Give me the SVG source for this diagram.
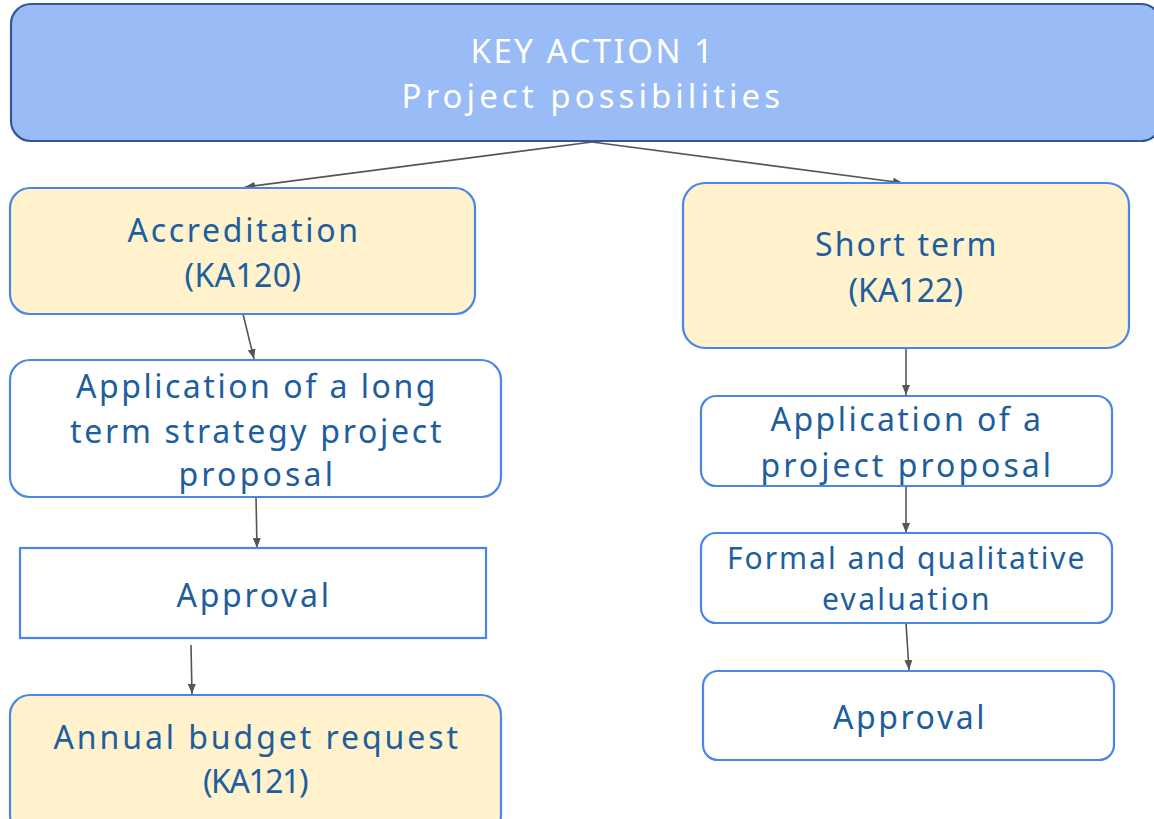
<svg xmlns="http://www.w3.org/2000/svg" width="1154" height="819" viewBox="0 0 1154 819">
<defs>
<marker id="arr" viewBox="0 0 10 10" refX="10" refY="5" markerWidth="10" markerHeight="10" markerUnits="userSpaceOnUse" orient="auto">
<path d="M0,1 L10,5 L0,9 Z" fill="#555555"/>
</marker>
</defs>
<style>
.box{fill:#ffffff;stroke:#4a86e8;stroke-width:2.2}
.yel{fill:#fff2cc;stroke:#4a86e8;stroke-width:2.2}
.top{fill:#99bbf6;stroke:#34579a;stroke-width:2.2}
.t{font-family:"Noto Sans","DejaVu Sans",sans-serif;font-size:32px;fill:#1d5e9e;text-anchor:middle;letter-spacing:0.5px}
.tw{font-family:"Noto Sans","DejaVu Sans",sans-serif;font-size:33px;fill:#ffffff;text-anchor:middle;letter-spacing:0.5px}
.c{stroke:#555555;stroke-width:1.6;fill:none;marker-end:url(#arr)}
</style>
<g id="connectors">
<line class="c" x1="592" y1="142" x2="245" y2="187"/>
<line class="c" x1="592" y1="142" x2="903" y2="183"/>
<line class="c" x1="243" y1="314" x2="254" y2="359"/>
<line class="c" x1="256" y1="497" x2="257" y2="548"/>
<line class="c" x1="191" y1="645" x2="192" y2="694"/>
<line class="c" x1="906" y1="348" x2="906" y2="395"/>
<line class="c" x1="906" y1="486" x2="906" y2="533"/>
<line class="c" x1="906" y1="623" x2="909" y2="670"/>
</g>
<g id="n-key">
<rect class="top" x="11" y="4" width="1150" height="137" rx="20"/>
<text class="tw" x="592" y="63" textLength="243">KEY ACTION 1</text>
<text class="tw" x="591" y="108" textLength="379">Project possibilities</text>
</g>
<g id="n-accreditation">
<rect class="yel" x="10" y="188" width="465" height="126" rx="20"/>
<text class="t" x="243" y="242" textLength="231">Accreditation</text>
<text class="t" x="243" y="287" textLength="117">(KA120)</text>
</g>
<g id="n-short">
<rect class="yel" x="683" y="183" width="446" height="165" rx="22"/>
<text class="t" x="906" y="256" textLength="182">Short term</text>
<text class="t" x="906" y="302" textLength="115">(KA122)</text>
</g>
<g id="n-longterm">
<rect class="box" x="10" y="360" width="491" height="137" rx="20"/>
<text class="t" x="256" y="398" textLength="360">Application of a long</text>
<text class="t" x="256" y="443" textLength="372">term strategy project</text>
<text class="t" x="256" y="486" textLength="155">proposal</text>
</g>
<g id="n-approval-left">
<rect class="box" x="20" y="548" width="466" height="90"/>
<text class="t" x="253" y="607" textLength="153">Approval</text>
</g>
<g id="n-annual">
<rect class="yel" x="10" y="695" width="491" height="140" rx="20"/>
<text class="t" x="256" y="749" textLength="405">Annual budget request</text>
<text class="t" x="256" y="793" textLength="106">(KA121)</text>
</g>
<g id="n-application">
<rect class="box" x="701" y="396" width="411" height="90" rx="15"/>
<text class="t" x="906" y="431" textLength="271">Application of a</text>
<text class="t" x="906" y="477" textLength="291">project proposal</text>
</g>
<g id="n-evaluation">
<rect class="box" x="701" y="533" width="411" height="90" rx="15"/>
<text class="t" x="906" y="569" textLength="358" style="font-size:30px">Formal and qualitative</text>
<text class="t" x="906" y="610" textLength="168" style="font-size:30px">evaluation</text>
</g>
<g id="n-approval-right">
<rect class="box" x="703" y="671" width="411" height="89" rx="15"/>
<text class="t" x="909" y="729" textLength="152">Approval</text>
</g>
</svg>
